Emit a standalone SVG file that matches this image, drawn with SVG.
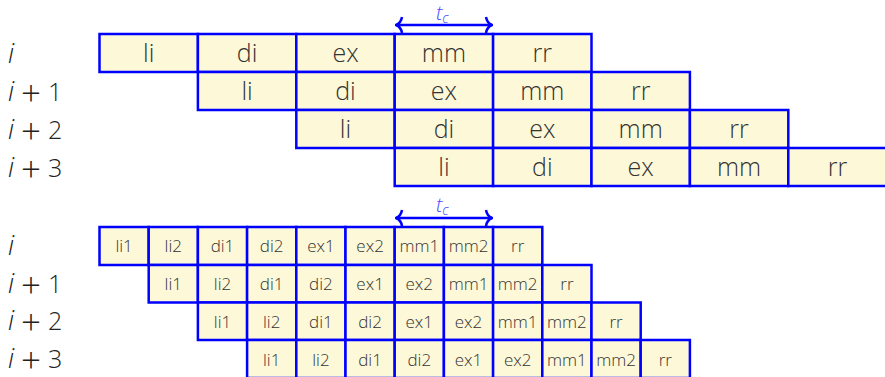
<svg xmlns="http://www.w3.org/2000/svg" width="885" height="377" viewBox="0 0 885 377">
<style>
.c{fill:#fdf8d8;stroke:#0000ff;stroke-width:2.5}
.t{font-family:"Open Sans","Liberation Sans",sans-serif;font-weight:300;fill:#333;text-anchor:middle}
.a{font-size:25px}
.b{font-size:17px}
.lab{font-family:"Open Sans","Liberation Sans",sans-serif;font-weight:300;font-size:25px;fill:#222}
.it{font-style:italic;font-size:27px}
.pl{font-size:35px}
.tc{font-family:"Open Sans","Liberation Sans",sans-serif;font-weight:300;font-style:italic;font-size:20px;fill:#4a4aff}
.arr{fill:none;stroke:#0000ff;stroke-width:2.5}
</style>
<defs>
<marker id="h" viewBox="0 0 10 20" refX="9" refY="10" markerWidth="10" markerHeight="20" markerUnits="userSpaceOnUse" orient="auto-start-reverse">
<path d="M3,2 Q4,8 9,10 Q4,12 3,18" fill="none" stroke="#0000ff" stroke-width="2.5"/>
</marker>
</defs>
<g id="labels-top">
<text class="lab" x="8" y="63"><tspan class="it">i</tspan></text>
<text class="lab" x="8" y="101"><tspan class="it">i</tspan><tspan class="pl" x="21" y="106">+</tspan><tspan x="48" y="101">1</tspan></text>
<text class="lab" x="8" y="139"><tspan class="it">i</tspan><tspan class="pl" x="21" y="144">+</tspan><tspan x="48" y="139">2</tspan></text>
<text class="lab" x="8" y="177"><tspan class="it">i</tspan><tspan class="pl" x="21" y="182">+</tspan><tspan x="48" y="177">3</tspan></text>
</g>
<g id="connectors">
<path class="arr" d="M396,25 H492" marker-start="url(#h)" marker-end="url(#h)"/>
<path class="arr" d="M396,218 H492" marker-start="url(#h)" marker-end="url(#h)"/>
</g>
<g id="tc-top"><text class="tc" x="436" y="20">t<tspan font-size="14" dy="3">c</tspan></text></g>
<g id="tc-bottom"><text class="tc" x="436" y="212">t<tspan font-size="14" dy="3">c</tspan></text></g>
<g id="row-i">
<rect class="c" x="99.5" y="34" width="98.4" height="38"/><text class="t a" x="148.7" y="62">li</text>
<rect class="c" x="197.9" y="34" width="98.4" height="38"/><text class="t a" x="247.1" y="62">di</text>
<rect class="c" x="296.3" y="34" width="98.4" height="38"/><text class="t a" x="345.5" y="62">ex</text>
<rect class="c" x="394.7" y="34" width="98.4" height="38"/><text class="t a" x="443.9" y="62">mm</text>
<rect class="c" x="493.1" y="34" width="98.4" height="38"/><text class="t a" x="542.3" y="62">rr</text>
</g>
<g id="row-i1">
<rect class="c" x="197.9" y="72" width="98.4" height="38"/><text class="t a" x="247.1" y="100">li</text>
<rect class="c" x="296.3" y="72" width="98.4" height="38"/><text class="t a" x="345.5" y="100">di</text>
<rect class="c" x="394.7" y="72" width="98.4" height="38"/><text class="t a" x="443.9" y="100">ex</text>
<rect class="c" x="493.1" y="72" width="98.4" height="38"/><text class="t a" x="542.3" y="100">mm</text>
<rect class="c" x="591.5" y="72" width="98.4" height="38"/><text class="t a" x="640.7" y="100">rr</text>
</g>
<g id="row-i2">
<rect class="c" x="296.3" y="110" width="98.4" height="38"/><text class="t a" x="345.5" y="138">li</text>
<rect class="c" x="394.7" y="110" width="98.4" height="38"/><text class="t a" x="443.9" y="138">di</text>
<rect class="c" x="493.1" y="110" width="98.4" height="38"/><text class="t a" x="542.3" y="138">ex</text>
<rect class="c" x="591.5" y="110" width="98.4" height="38"/><text class="t a" x="640.7" y="138">mm</text>
<rect class="c" x="689.9" y="110" width="98.4" height="38"/><text class="t a" x="739.1" y="138">rr</text>
</g>
<g id="row-i3">
<rect class="c" x="394.7" y="148" width="98.4" height="38"/><text class="t a" x="443.9" y="176">li</text>
<rect class="c" x="493.1" y="148" width="98.4" height="38"/><text class="t a" x="542.3" y="176">di</text>
<rect class="c" x="591.5" y="148" width="98.4" height="38"/><text class="t a" x="640.7" y="176">ex</text>
<rect class="c" x="689.9" y="148" width="98.4" height="38"/><text class="t a" x="739.1" y="176">mm</text>
<rect class="c" x="788.3" y="148" width="98.4" height="38"/><text class="t a" x="837.5" y="176">rr</text>
</g>
<g id="labels-bottom">
<text class="lab" x="8" y="255"><tspan class="it">i</tspan></text>
<text class="lab" x="8" y="293"><tspan class="it">i</tspan><tspan class="pl" x="21" y="298">+</tspan><tspan x="48" y="293">1</tspan></text>
<text class="lab" x="8" y="330"><tspan class="it">i</tspan><tspan class="pl" x="21" y="335">+</tspan><tspan x="48" y="330">2</tspan></text>
<text class="lab" x="8" y="368"><tspan class="it">i</tspan><tspan class="pl" x="21" y="373">+</tspan><tspan x="48" y="368">3</tspan></text>
</g>
<g id="b-row-i">
<rect class="c" x="99.5" y="227" width="49.2" height="38"/><text class="t b" x="124.1" y="252">li1</text>
<rect class="c" x="148.7" y="227" width="49.2" height="38"/><text class="t b" x="173.3" y="252">li2</text>
<rect class="c" x="197.9" y="227" width="49.2" height="38"/><text class="t b" x="222.5" y="252">di1</text>
<rect class="c" x="247.1" y="227" width="49.2" height="38"/><text class="t b" x="271.7" y="252">di2</text>
<rect class="c" x="296.3" y="227" width="49.2" height="38"/><text class="t b" x="320.9" y="252">ex1</text>
<rect class="c" x="345.5" y="227" width="49.2" height="38"/><text class="t b" x="370.1" y="252">ex2</text>
<rect class="c" x="394.7" y="227" width="49.2" height="38"/><text class="t b" x="419.3" y="252">mm1</text>
<rect class="c" x="443.9" y="227" width="49.2" height="38"/><text class="t b" x="468.5" y="252">mm2</text>
<rect class="c" x="493.1" y="227" width="49.2" height="38"/><text class="t b" x="517.7" y="252">rr</text>
</g>
<g id="b-row-i1">
<rect class="c" x="148.7" y="265" width="49.2" height="37.5"/><text class="t b" x="173.3" y="290">li1</text>
<rect class="c" x="197.9" y="265" width="49.2" height="37.5"/><text class="t b" x="222.5" y="290">li2</text>
<rect class="c" x="247.1" y="265" width="49.2" height="37.5"/><text class="t b" x="271.7" y="290">di1</text>
<rect class="c" x="296.3" y="265" width="49.2" height="37.5"/><text class="t b" x="320.9" y="290">di2</text>
<rect class="c" x="345.5" y="265" width="49.2" height="37.5"/><text class="t b" x="370.1" y="290">ex1</text>
<rect class="c" x="394.7" y="265" width="49.2" height="37.5"/><text class="t b" x="419.3" y="290">ex2</text>
<rect class="c" x="443.9" y="265" width="49.2" height="37.5"/><text class="t b" x="468.5" y="290">mm1</text>
<rect class="c" x="493.1" y="265" width="49.2" height="37.5"/><text class="t b" x="517.7" y="290">mm2</text>
<rect class="c" x="542.3" y="265" width="49.2" height="37.5"/><text class="t b" x="566.9" y="290">rr</text>
</g>
<g id="b-row-i2">
<rect class="c" x="197.9" y="302.5" width="49.2" height="37.5"/><text class="t b" x="222.5" y="328">li1</text>
<rect class="c" x="247.1" y="302.5" width="49.2" height="37.5"/><text class="t b" x="271.7" y="328">li2</text>
<rect class="c" x="296.3" y="302.5" width="49.2" height="37.5"/><text class="t b" x="320.9" y="328">di1</text>
<rect class="c" x="345.5" y="302.5" width="49.2" height="37.5"/><text class="t b" x="370.1" y="328">di2</text>
<rect class="c" x="394.7" y="302.5" width="49.2" height="37.5"/><text class="t b" x="419.3" y="328">ex1</text>
<rect class="c" x="443.9" y="302.5" width="49.2" height="37.5"/><text class="t b" x="468.5" y="328">ex2</text>
<rect class="c" x="493.1" y="302.5" width="49.2" height="37.5"/><text class="t b" x="517.7" y="328">mm1</text>
<rect class="c" x="542.3" y="302.5" width="49.2" height="37.5"/><text class="t b" x="566.9" y="328">mm2</text>
<rect class="c" x="591.5" y="302.5" width="49.2" height="37.5"/><text class="t b" x="616.1" y="328">rr</text>
</g>
<g id="b-row-i3">
<rect class="c" x="247.1" y="340" width="49.2" height="38"/><text class="t b" x="271.7" y="366">li1</text>
<rect class="c" x="296.3" y="340" width="49.2" height="38"/><text class="t b" x="320.9" y="366">li2</text>
<rect class="c" x="345.5" y="340" width="49.2" height="38"/><text class="t b" x="370.1" y="366">di1</text>
<rect class="c" x="394.7" y="340" width="49.2" height="38"/><text class="t b" x="419.3" y="366">di2</text>
<rect class="c" x="443.9" y="340" width="49.2" height="38"/><text class="t b" x="468.5" y="366">ex1</text>
<rect class="c" x="493.1" y="340" width="49.2" height="38"/><text class="t b" x="517.7" y="366">ex2</text>
<rect class="c" x="542.3" y="340" width="49.2" height="38"/><text class="t b" x="566.9" y="366">mm1</text>
<rect class="c" x="591.5" y="340" width="49.2" height="38"/><text class="t b" x="616.1" y="366">mm2</text>
<rect class="c" x="640.7" y="340" width="49.2" height="38"/><text class="t b" x="665.3" y="366">rr</text>
</g>
</svg>
